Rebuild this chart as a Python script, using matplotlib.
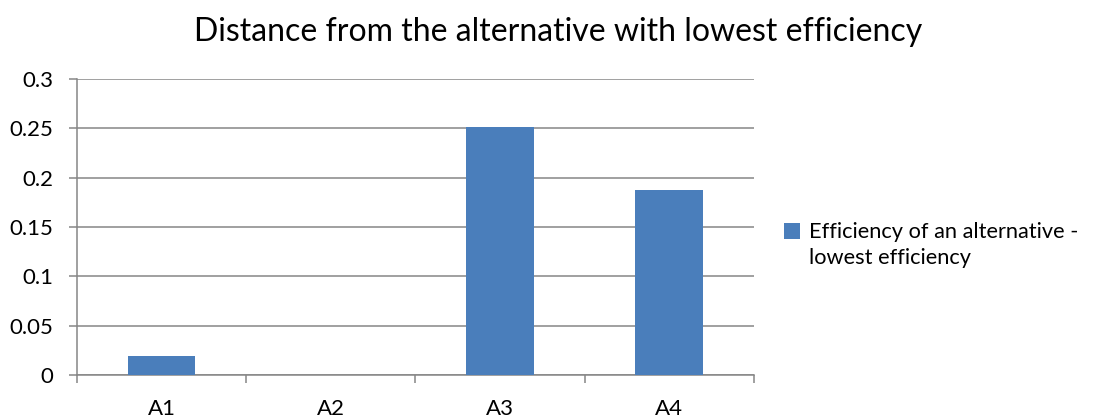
import matplotlib.pyplot as plt
from matplotlib.patches import Patch

# data
alternatives = ["A1", "A2", "A3", "A4"]
distance = [0.019, 0.0, 0.251, 0.188]
yticks = [0, 0.05, 0.1, 0.15, 0.2, 0.25, 0.3]
ytick_labels = ["0", "0.05", "0.1", "0.15", "0.2", "0.25", "0.3"]

plt.rcParams['font.family'] = ['Lato', 'DejaVu Sans']
grey = "#868686"
blue = "#4a7ebb"

fig = plt.figure(figsize=(11.04, 4.18), dpi=100)
ax = fig.add_axes([0.0697, 0.1029, 0.6132, 0.7081])

pos = list(range(1, len(alternatives) + 1))
bars = ax.bar(pos, distance, width=0.4, color=blue, zorder=3)

ax.set_xlim(0.5, len(alternatives) + 0.5)
ax.set_ylim(0, 0.3)

# gridlines
ax.set_yticks(yticks)
ax.set_yticklabels(ytick_labels, fontsize=16)
ax.yaxis.grid(True, color=grey, linewidth=1.1, zorder=0)
ax.tick_params(axis='y', length=6, width=1.1, color=grey, pad=11)

# category ticks sit on boundaries, labels in the middle
ax.set_xticks([p - 0.5 for p in pos] + [pos[-1] + 0.5])
ax.set_xticklabels([])
ax.set_xticks(pos, minor=True)
ax.set_xticklabels(alternatives, minor=True, fontsize=16)
ax.tick_params(axis='x', which='major', length=6, width=1.1, color=grey)
ax.tick_params(axis='x', which='minor', length=0, pad=17)

for side in ['top', 'right']:
    ax.spines[side].set_visible(False)
for side in ['left', 'bottom']:
    ax.spines[side].set_color(grey)
    ax.spines[side].set_linewidth(1.1)

fig.suptitle("Distance from the alternative with lowest efficiency",
             fontsize=23, x=0.506, y=0.96)

# legend, label split over two rows
blank = Patch(facecolor='none', edgecolor='none')
fig.legend([bars, blank],
           ["Efficiency of an alternative -", "lowest efficiency"],
           loc='upper left', bbox_to_anchor=(0.710, 0.468),
           frameon=False, fontsize=15.7, handlelength=0.75, handleheight=0.75,
           handletextpad=0.4, labelspacing=0.25, borderpad=0, borderaxespad=0)

fig.savefig("out.png", dpi=100)
